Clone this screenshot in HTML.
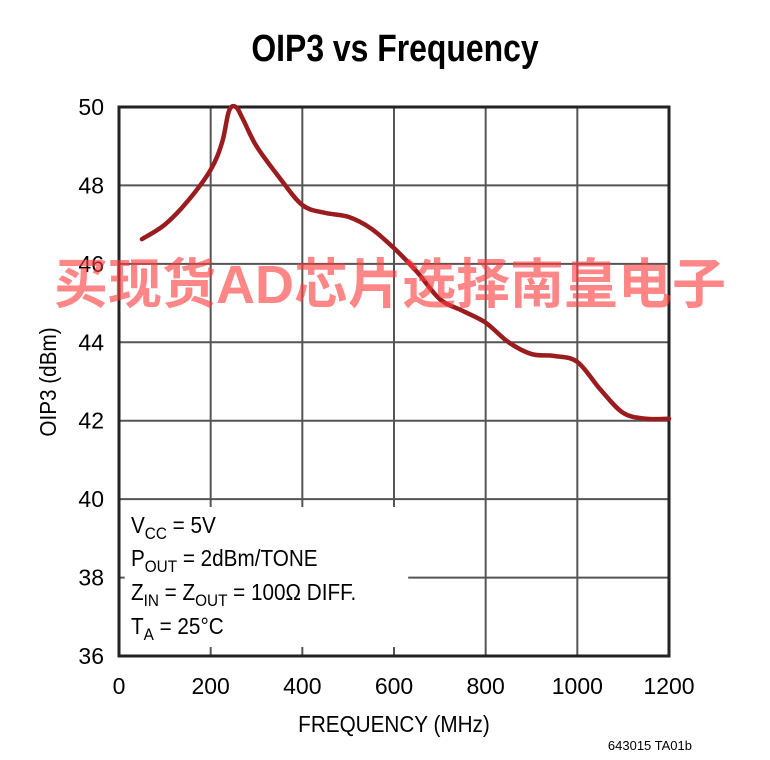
<!DOCTYPE html>
<html><head><meta charset="utf-8"><style>
body{margin:0;background:#fff;width:770px;height:760px;overflow:hidden}
svg{display:block}
text{font-family:"Liberation Sans",sans-serif}
</style></head><body>
<svg id="chart" width="770" height="760">
<text x="395" y="61" text-anchor="middle" font-size="38" font-weight="bold" transform="translate(395 0) scale(0.84 1) translate(-395 0)">OIP3 vs Frequency</text>
<g id="grid"></g>
<g id="ticks"></g>
<text x="0" y="0" transform="translate(56 382) rotate(-90) scale(0.9 1)" text-anchor="middle" font-size="23">OIP3 (dBm)</text>
<text x="394" y="732" text-anchor="middle" font-size="23" transform="translate(394 0) scale(0.9 1) translate(-394 0)">FREQUENCY (MHz)</text>
<text x="692" y="750" text-anchor="end" font-size="13">643015 TA01b</text>
<g font-size="23" transform="translate(131 0) scale(0.9 1) translate(-131 0)">
<rect x="124" y="507" width="315" height="140" fill="#fff"/>
<text x="131" y="533">V<tspan font-size="17" dy="6">CC</tspan><tspan dy="-6"> = 5V</tspan></text>
<text x="131" y="566">P<tspan font-size="17" dy="6">OUT</tspan><tspan dy="-6"> = 2dBm/TONE</tspan></text>
<text x="131" y="600">Z<tspan font-size="17" dy="6">IN</tspan><tspan dy="-6"> = Z</tspan><tspan font-size="17" dy="6">OUT</tspan><tspan dy="-6"> = 100Ω DIFF.</tspan></text>
<text x="131" y="634">T<tspan font-size="17" dy="6">A</tspan><tspan dy="-6"> = 25°C</tspan></text>
</g>
<path id="curve" fill="none" stroke="#9b1c1f" stroke-width="4.5" stroke-linejoin="round" stroke-linecap="round"/>
<text x="390" y="303" text-anchor="middle" font-size="54" font-weight="bold" fill="#ff3b3b" fill-opacity="0.62" style="font-family:'Liberation Sans','Noto Sans CJK SC',sans-serif">买现货AD芯片选择南皇电子</text>
</svg>
<script>
const freqs=[50,100,150,200,225,240,255,270,300,350,400,450,500,550,600,650,700,750,800,850,900,950,1000,1050,1100,1150,1200];
const oip3=[46.63,47.0,47.6,48.4,49.1,49.9,50.0,49.7,49.0,48.2,47.5,47.3,47.2,46.9,46.4,45.8,45.1,44.8,44.5,44.0,43.7,43.65,43.5,42.8,42.2,42.05,42.05];
const xTicks=[0,200,400,600,800,1000,1200];
const yTicks=[36,38,40,42,44,46,48,50];
const X0=119,X1=669,Y0=656,Y1=107;
const xs=f=>X0+(f-0)/1200*(X1-X0);
const ys=v=>Y0-(v-36)/14*(Y0-Y1);
const NS="http://www.w3.org/2000/svg";
const grid=document.getElementById('grid'),ticks=document.getElementById('ticks');
function mk(tag,attrs,parent){const e=document.createElementNS(NS,tag);for(const k in attrs)e.setAttribute(k,attrs[k]);parent.appendChild(e);return e;}
xTicks.forEach(t=>{
  const l=mk('line',{x1:xs(t),x2:xs(t),y1:Y1,y2:Y0,stroke:'#555','stroke-width':2},grid);
  
  
  const tx=mk('text',{x:xs(t),y:694,'text-anchor':'middle','font-size':23},ticks);tx.textContent=t;
  
  
});
yTicks.forEach(t=>{
  const l=mk('line',{x1:X0,x2:X1,y1:ys(t),y2:ys(t),stroke:'#555','stroke-width':2},grid);
  
  
  const tx=mk('text',{x:104,y:ys(t)+8,'text-anchor':'end','font-size':23},ticks);tx.textContent=t;
  
  
});
const fr=mk('rect',{x:X0,y:Y1,width:X1-X0,height:Y0-Y1,fill:'none',stroke:'#222','stroke-width':3},grid);


const pts=freqs.map((f,i)=>[xs(f),ys(oip3[i])]);
let d='M'+pts[0][0]+','+pts[0][1];
for(let i=0;i<pts.length-1;i++){
  const p0=pts[i-1]||pts[i],p1=pts[i],p2=pts[i+1],p3=pts[i+2]||p2;
  const c1=[p1[0]+(p2[0]-p0[0])/6,p1[1]+(p2[1]-p0[1])/6];
  const c2=[p2[0]-(p3[0]-p1[0])/6,p2[1]-(p3[1]-p1[1])/6];
  d+=` C${c1[0]},${c1[1]} ${c2[0]},${c2[1]} ${p2[0]},${p2[1]}`;
}
document.getElementById('curve').setAttribute('d',d);
</script>
</body></html>
